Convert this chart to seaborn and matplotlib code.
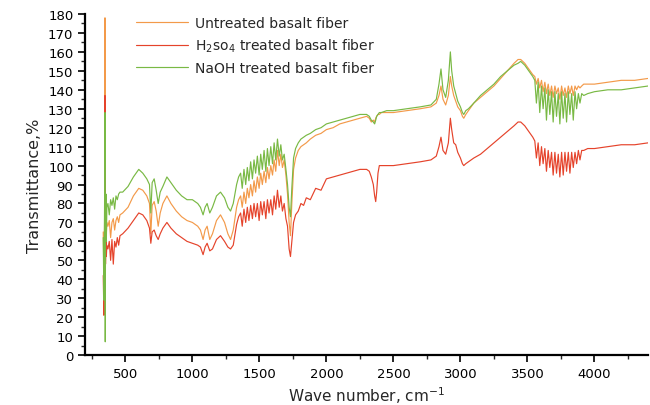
import matplotlib
matplotlib.use("Agg")
import matplotlib.pyplot as plt
import seaborn as sns
import pandas as pd
from matplotlib.ticker import MultipleLocator

# ---------------- data ----------------
wavenumber = [
    335, 340, 345, 348, 350, 352, 355, 358, 362,
    370, 380, 390, 400, 410, 420, 430, 440, 450, 460,
    480, 520, 560, 600, 630, 660, 680, 690, 700, 715, 730, 745, 760, 780, 810, 840,
    880, 920, 960, 1000, 1040, 1060, 1080, 1095, 1110, 1130, 1150, 1180, 1210, 1240,
    1265, 1285, 1305, 1330,
    1345, 1360, 1372, 1385, 1398, 1410, 1422, 1435, 1448, 1460, 1472, 1485, 1498, 1510,
    1522, 1535, 1548, 1560, 1572, 1585, 1598, 1610, 1622, 1635, 1648, 1660, 1672, 1685, 1698,
    1710, 1722, 1732, 1742, 1755, 1770, 1790, 1810, 1830, 1850, 1880, 1920, 1960, 2000, 2050,
    2100, 2150, 2200, 2250, 2300, 2320, 2335, 2350, 2360, 2368, 2375, 2385, 2395, 2410, 2450,
    2500, 2600, 2700, 2780, 2820, 2840, 2855, 2870, 2890, 2910, 2925, 2935, 2950, 2965, 2980,
    3000, 3015, 3025, 3040, 3060, 3100, 3150, 3200, 3250, 3300, 3350, 3400, 3430, 3450, 3480,
    3510, 3540,
    3555, 3567, 3580, 3592, 3605, 3617, 3630, 3642, 3655, 3667, 3680, 3692, 3705, 3717, 3730,
    3742, 3755, 3767, 3780, 3792, 3805, 3817, 3830, 3842, 3855, 3867, 3880, 3892, 3905, 3920,
    3950, 4000, 4100, 4200, 4300, 4400,
]

untreated = [
    65, 40, 70, 178, 120, 60, 72, 64, 70,
    68, 71, 62, 70, 72, 66, 71, 73, 70, 74,
    75, 78, 84, 88, 87, 84, 80, 64, 79, 81, 76, 68, 75, 80, 84, 80,
    76, 73, 71, 70, 68, 66, 61, 66, 68, 61, 64, 71, 74, 70,
    64, 61, 66, 78,
    82, 84, 78, 86, 80, 88, 83, 90, 84, 92, 86, 94, 88, 96,
    90, 97, 91, 99, 93, 100, 95, 103, 97, 108, 100, 106, 99, 103, 95,
    85, 70, 63, 80, 98, 104, 108, 110, 111, 112, 114, 116, 117, 119, 120,
    122, 123, 124, 125, 126, 125, 123, 124, 123, 125, 126, 127, 127, 128, 128,
    128, 129, 130, 131, 133, 137, 142, 135, 132, 137, 147, 142, 137, 134, 131,
    129, 126, 125, 127, 129, 133, 136, 139, 142, 146, 150, 154, 156, 156, 154,
    151, 148,
    147, 143, 146, 141, 145, 139, 144, 138, 143, 137, 142, 136, 142, 138, 141,
    135, 142, 137, 141, 136, 142, 138, 142, 137, 142, 140, 142, 141, 142, 143,
    143, 143, 144, 145, 145, 146,
]

h2so4_treated = [
    42, 21, 55, 137, 90, 48, 60, 52, 58,
    56, 60, 50, 61, 48, 60, 57, 62, 58, 63,
    64, 67, 71, 75, 74, 71, 67, 59, 65, 66, 63, 61, 64, 67, 70, 67,
    64, 62, 60, 59, 58, 57, 53, 57, 59, 55, 56, 61, 63, 60,
    57, 56, 58, 69,
    73, 75, 68, 77, 70, 78, 71, 79, 72, 80, 73, 80, 71, 81,
    74, 81, 72, 82, 75, 82, 74, 84, 77, 87, 78, 84, 76, 80, 72,
    68, 56, 52, 60, 70, 74, 76, 80, 79, 83, 82, 88, 87, 93, 94,
    95, 96, 97, 98, 98, 97, 94, 90, 84, 81, 86, 96, 100, 100, 100,
    100, 101, 102, 103, 105, 110, 115, 108, 106, 112, 125, 119, 112, 111, 107,
    104, 101, 100, 101, 102, 104, 106, 109, 112, 115, 118, 121, 123, 123, 121,
    118, 115,
    113, 104, 112, 100, 110, 101, 109, 97, 108, 99, 107, 95, 107, 96, 106,
    94, 107, 95, 107, 97, 107, 96, 107, 99, 107, 101, 108, 103, 108, 108,
    109, 109, 110, 111, 111, 112,
]

naoh_treated = [
    62, 29, 80, 128, 7, 70, 85, 60, 78,
    80, 74, 82, 79, 83, 77, 84, 82, 85, 86,
    86, 89, 94, 98, 96, 93, 90, 75, 91, 93, 87, 80, 86, 89, 94, 91,
    87, 84, 82, 82, 80, 78, 74, 78, 80, 75, 78, 84, 86, 83,
    78, 76, 80, 90,
    94, 96, 88, 98, 90, 99, 92, 102, 93, 103, 96, 105, 95, 106,
    98, 108, 97, 109, 100, 110, 101, 112, 103, 114, 105, 111, 103, 106, 98,
    90, 78, 73, 88, 104, 109, 112, 114, 115, 116, 117, 119, 120, 122, 123,
    124, 125, 126, 127, 127, 126, 124, 123, 122, 124, 126, 127, 128, 128, 129,
    129, 130, 131, 132, 135, 143, 151, 140, 136, 145, 160, 150, 142, 138, 134,
    131, 128, 127, 129, 130, 133, 137, 140, 143, 147, 150, 153, 154, 155, 153,
    150, 147,
    145, 133, 144, 128, 142, 130, 141, 124, 140, 127, 139, 123, 139, 126, 138,
    122, 139, 125, 138, 123, 139, 127, 138, 124, 139, 130, 138, 133, 138, 137,
    138, 139, 140, 140, 141, 142,
]

series_labels = [
    "Untreated basalt fiber",
    "H$_2$so$_4$ treated basalt fiber",
    "NaOH treated basalt fiber",
]
series_colors = ["#F39A4A", "#E5432B", "#79B944"]

x_ticks = [500, 1000, 1500, 2000, 2500, 3000, 3500, 4000]
y_ticks = list(range(0, 181, 10))

# ---------------- plotting ----------------
sns.set_style("ticks")
plt.rcParams["font.family"] = ["DejaVu Sans"]

fig = plt.figure(figsize=(6.5, 4.06), dpi=100)
ax = fig.add_axes([0.131, 0.123, 0.866, 0.840])

for vals, lab, col in zip([untreated, h2so4_treated, naoh_treated], series_labels, series_colors):
    df = pd.DataFrame({"wavenumber": wavenumber, "T": vals})
    sns.lineplot(data=df, x="wavenumber", y="T", ax=ax, color=col, label=lab,
                 linewidth=0.85, sort=False, estimator=None)

ax.set_xlim(200, 4400)
ax.set_ylim(0, 180)
ax.set_xticks(x_ticks)
ax.set_yticks(y_ticks)
ax.xaxis.set_minor_locator(MultipleLocator(250))
ax.yaxis.set_minor_locator(MultipleLocator(5))
ax.tick_params(axis="both", which="major", direction="out", length=5, width=1.2,
               labelsize=9.5, colors="black")
ax.tick_params(axis="both", which="minor", direction="out", length=3, width=1.0)
for side in ["top", "right"]:
    ax.spines[side].set_visible(False)
for side in ["left", "bottom"]:
    ax.spines[side].set_linewidth(1.6)
    ax.spines[side].set_color("black")

ax.set_xlabel("Wave number, cm$^{-1}$", fontsize=11, labelpad=3)
ax.set_ylabel("Transmittance,%", fontsize=11.5, labelpad=4)

leg = ax.legend(loc="upper left", bbox_to_anchor=(0.195, 0.983), bbox_transform=fig.transFigure,
                frameon=False, fontsize=10, handlelength=3.7, labelspacing=0.5,
                handletextpad=0.5, borderaxespad=0.3)

fig.savefig("out.png", dpi=100)
